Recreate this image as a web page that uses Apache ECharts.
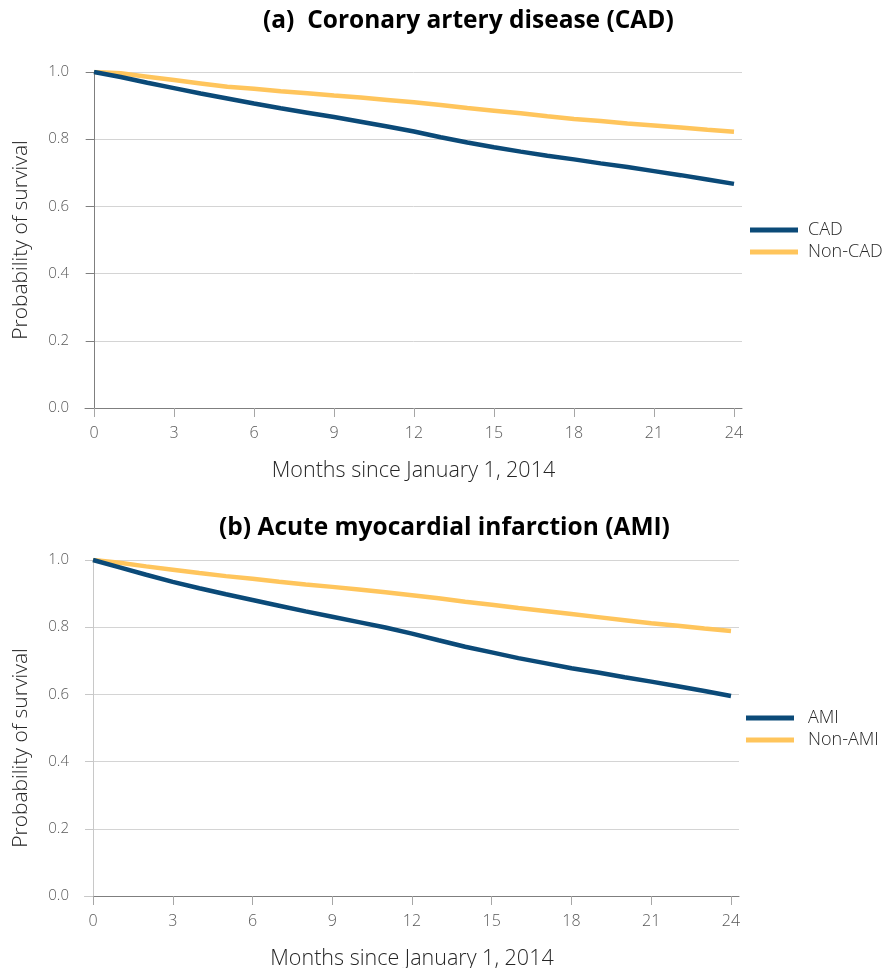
<!DOCTYPE html>
<html><head><meta charset="utf-8">
<script src="https://cdn.jsdelivr.net/npm/echarts@6/dist/echarts.min.js"></script>
<style>html,body{margin:0;padding:0;background:#fff}#c{width:887px;height:968px}</style>
</head><body><div id="c"></div>
<script>
const months = [0,1,2,3,4,5,6,7,8,9,10,11,12,13,14,15,16,17,18,19,20,21,22,23,24];
const xTicks = [0,3,6,9,12,15,18,21,24];
const cad    = [1.0,0.985,0.968,0.952,0.936,0.921,0.906,0.892,0.879,0.866,0.852,0.838,0.823,0.806,0.790,0.776,0.763,0.751,0.740,0.728,0.717,0.705,0.693,0.680,0.667];
const nonCad = [1.0,0.996,0.986,0.976,0.966,0.956,0.950,0.943,0.937,0.930,0.924,0.917,0.910,0.902,0.893,0.885,0.877,0.868,0.860,0.854,0.847,0.841,0.835,0.828,0.822];
const ami    = [1.0,0.978,0.956,0.935,0.916,0.898,0.881,0.864,0.847,0.831,0.815,0.799,0.781,0.761,0.742,0.725,0.708,0.693,0.678,0.665,0.651,0.638,0.624,0.610,0.595];
const nonAmi = [1.0,0.992,0.981,0.971,0.961,0.952,0.944,0.935,0.927,0.920,0.912,0.904,0.895,0.886,0.876,0.867,0.857,0.848,0.839,0.830,0.821,0.812,0.804,0.796,0.789];
const titleA = '(a)  Coronary artery disease (CAD)';
const titleB = '(b) Acute myocardial infarction (AMI)';
const xName = 'Months since January 1, 2014';
const yName = 'Probability of survival';

const FONT = '"Open Sans", sans-serif';
const BLUE = '#0b4a78', GOLD = '#ffc55c';
const pair = (xs, ys) => xs.map((x, i) => [x, ys[i]]);

function xAxis(gi, min, max, gap) {
  return {
    type: 'value', gridIndex: gi, min: min, max: max,
    name: xName, nameLocation: 'middle', nameGap: gap,
    nameTextStyle: {fontFamily: FONT, fontSize: 21.5, fontWeight: 300, color: '#262626'},
    axisLine: {show: true, lineStyle: {color: '#7f7f7f', width: 1}},
    axisTick: {show: true, length: 9, customValues: xTicks, lineStyle: {color: '#a6a6a6'}},
    axisLabel: {customValues: xTicks, margin: 17, fontFamily: FONT, fontSize: 16, fontWeight: 300, color: '#595959'},
    splitLine: {show: false}
  };
}
function yAxis(gi, lineColor, pad) {
  return {
    type: 'value', gridIndex: gi, min: 0, max: 1, interval: 0.2,
    name: yName, nameLocation: 'middle', nameGap: 53,
    nameTextStyle: {fontFamily: FONT, fontSize: 21, fontWeight: 300, color: '#262626', padding: pad},
    axisLine: {show: true, lineStyle: {color: lineColor, width: 1}},
    axisTick: {show: true, length: 8, lineStyle: {color: lineColor}},
    axisLabel: {margin: 16, fontFamily: FONT, fontSize: 15, fontWeight: 300, color: '#595959',
      formatter: v => v.toFixed(1)},
    splitLine: {show: true, lineStyle: {color: '#d4d4d4', width: 1}}
  };
}
function line(name, data, color, xi) {
  return {type: 'line', name: name, data: data, xAxisIndex: xi, yAxisIndex: xi,
    showSymbol: false, symbol: 'none', lineStyle: {color: color, width: 4.5}, itemStyle: {color: color},
    z: color === BLUE ? 3 : 2, animation: false};
}
function legend(names, left, top, gap) {
  return {data: names, orient: 'vertical', left: left, top: top, itemWidth: 48, itemHeight: 5,
    itemGap: 4, icon: 'rect',
    textStyle: {fontFamily: FONT, fontSize: 18, fontWeight: 300, color: '#262626', padding: [0, 0, 0, gap]}};
}

const chart = echarts.init(document.getElementById('c'), null, {renderer: 'canvas'});
chart.setOption({
  animation: false,
  backgroundColor: '#fff',
  title: [
    {text: titleA, left: 258, top: 4, textStyle: {fontFamily: FONT, fontWeight: 'bold', fontSize: 24.5, color: '#000'}},
    {text: titleB, left: 214, top: 511, textStyle: {fontFamily: FONT, fontWeight: 'bold', fontSize: 24.5, color: '#000'}}
  ],
  grid: [
    {left: 85, top: 72, width: 657, height: 336, outerBoundsMode: 'none', containLabel: false},
    {left: 85, top: 560, width: 654, height: 336, outerBoundsMode: 'none', containLabel: false}
  ],
  xAxis: [xAxis(0, -0.3375, 24.3, 52), xAxis(1, -0.301, 24.301, 52)],
  yAxis: [yAxis(0, '#7f7f7f', [0, 0, 0, 0]), yAxis(1, '#c8c8c8', [0, 40, 0, 0])],
  legend: [legend(['CAD','Non-CAD'], 745, 216, 5), legend(['AMI','Non-AMI'], 741, 704, 9)],
  series: [
    line('Non-CAD', pair(months, nonCad), GOLD, 0),
    line('CAD', pair(months, cad), BLUE, 0),
    line('Non-AMI', pair(months, nonAmi), GOLD, 1),
    line('AMI', pair(months, ami), BLUE, 1)
  ]
});
</script></body></html>
